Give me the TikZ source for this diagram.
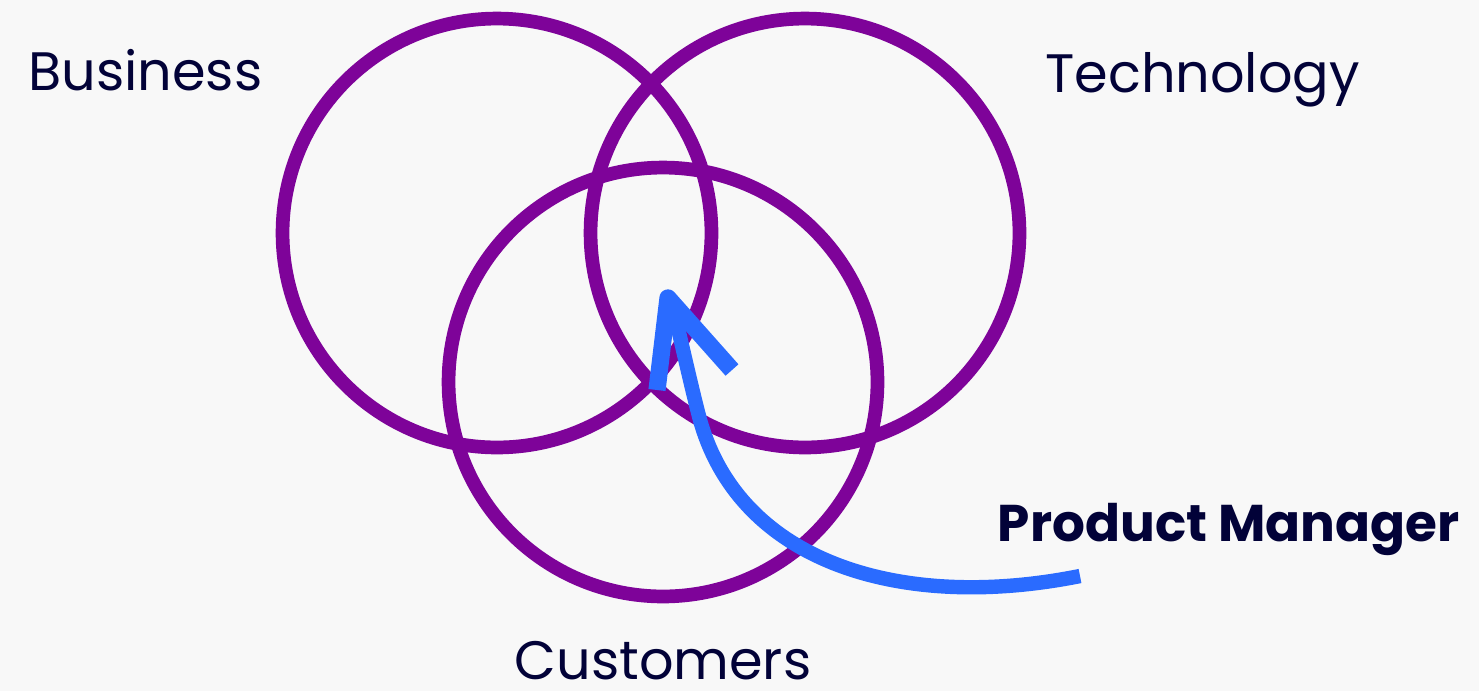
\documentclass[tikz,border=0pt]{standalone}
\usepackage{fontspec}
\setmainfont{Poppins}
\usepackage{tikz}

\definecolor{paper}{HTML}{F8F8F8}
\definecolor{venn}{HTML}{7E0399}
\definecolor{ink}{HTML}{020238}
\definecolor{pmblue}{HTML}{2A6BFF}

\begin{document}
\begin{tikzpicture}[
    x=0.02cm,
    y=-0.02cm,
    ring/.style={
      circle,
      draw=venn,
      line width=7.8pt,
      minimum size=8.58cm,
      inner sep=0pt},
    label/.style={
      text=ink,
      font=\fontsize{30.8}{36}\selectfont,
      inner sep=0pt},
    pmstroke/.style={
      draw=pmblue,
      line width=8.2pt},
  ]
  \fill[paper] (0,0) rectangle (1479,691);
  \useasboundingbox (0,0) rectangle (1479,691);

  % the three circles
  \node[ring] (business) at (497,233) {};
  \node[ring] (technology) at (805,233) {};
  \node[ring] (customers) at (663,382) {};

  % labels
  \node[label, anchor=base west] (businesslabel) at (28,90) {Business};
  \node[label, anchor=base west] (technologylabel) at (1045,92) {Technology};
  \node[label, anchor=base, text depth=0pt] (customerslabel) at (663,679) {Customers};
  \node[label, anchor=base east, font=\fontsize{29.4}{34}\selectfont\bfseries]
    (pm) at (1460,541) {Product Manager};

  % hand drawn arrow
  \coordinate (tail) at (1080,576);
  \coordinate (bend) at (700,420);
  \coordinate (tip) at (671,300);
  \draw[pmstroke, line cap=butt]
    (tail) .. controls (900,612) and (740,562) .. (bend)
           .. controls (690,382) and (680,335) .. (tip);
  \draw[pmstroke, line width=9.8pt, line join=round, line cap=butt]
    (657,390) -- (668,298) -- (732,370);
\end{tikzpicture}
\end{document}
